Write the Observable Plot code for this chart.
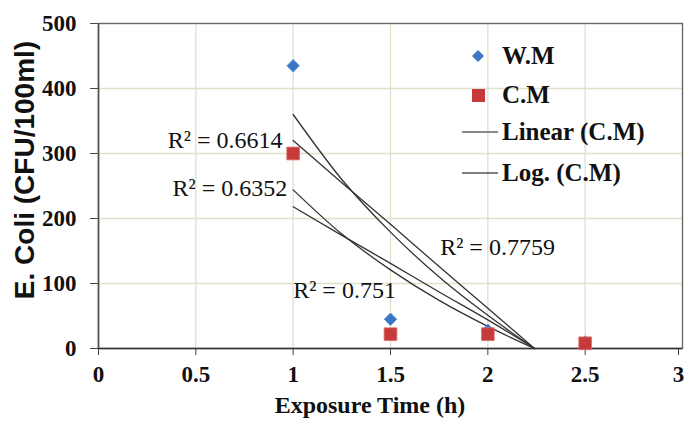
<!DOCTYPE html>
<html><head><meta charset="utf-8">
<script src="https://cdn.jsdelivr.net/npm/d3@7"></script>
<script src="https://cdn.jsdelivr.net/npm/@observablehq/plot@0.6"></script>
<style>
body{margin:0;background:#fff}
#wrap{position:relative;width:685px;height:421px}
#legend{position:absolute;left:0;top:0;font-family:"Liberation Serif",serif;font-weight:bold;font-size:25px;color:#111}
.item{position:absolute;height:30px;line-height:30px;white-space:nowrap}
</style>
</head><body><div id="wrap"><div id="chart"></div><div id="legend"></div></div>
<script>
// data
const time = [1, 1.5, 2, 2.5];
const wm = [435, 45, 28, 10];
const cm = [300, 22, 22, 8];
const xTicks = [0, 0.5, 1, 1.5, 2, 2.5, 3];
const yTicks = [0, 100, 200, 300, 400, 500];
// trendlines
const trendX = [1, 1.25, 1.5, 1.75, 2, 2.24];
const logWM = [360, 260, 179, 110, 51, 0];
const linWM = [320, 255, 191, 126, 62, 0];
const logCM = [244, 176, 121, 74, 34, 0];
const linCM = [218, 174, 131, 87, 44, 0];
// R² annotations
const r2Text = ["R² = 0.6614", "R² = 0.6352", "R² = 0.7759", "R² = 0.751"];
const r2X = [0.945, 0.97, 1.755, 1.0];
const r2Y = [320, 247, 155, 89];
const r2Anchor = ["end", "end", "start", "start"];

const pts = (xs, ys) => xs.map((x, i) => ({x, y: ys[i]}));
const labels = r2Text.map((t, i) => ({t, x: r2X[i], y: r2Y[i], a: r2Anchor[i]}));

const serif = "Liberation Serif, Times New Roman, serif";
const lineStyle = {x: "x", y: "y", stroke: "#333", strokeWidth: 1.3, curve: "monotone-x"};
const axStyle = {fontSize: 23, fontWeight: "bold", fill: "#111", stroke: "#444", tickFormat: d => String(d), label: null};

const chart = Plot.plot({
  width: 685, height: 421,
  marginLeft: 98, marginRight: 3, marginTop: 23, marginBottom: 73,
  x: {domain: [0, 3]},
  y: {domain: [0, 500]},
  style: {fontFamily: serif, background: "#fff"},
  marks: [
    Plot.gridX(xTicks, {stroke: "#e2e0cc", strokeOpacity: 1, strokeWidth: 1.3}),
    Plot.gridY(yTicks, {stroke: "#e2e0cc", strokeOpacity: 1, strokeWidth: 1.3}),
    Plot.frame({stroke: "#666", strokeWidth: 1.3}),
    Plot.axisX(xTicks.slice(0, -1), {tickSize: 7, tickPadding: 10, ...axStyle}),
    Plot.axisX(xTicks.slice(-1), {tickSize: 7, tickPadding: 10, dx: -4, ...axStyle}),
    Plot.axisY(yTicks, {tickSize: 8, tickPadding: 14, ...axStyle}),
    Plot.ruleY([0], {stroke: "#333", strokeWidth: 1.6}),
    Plot.ruleX([0], {stroke: "#555", strokeWidth: 1.6}),
    Plot.line(pts(trendX, logWM), lineStyle),
    Plot.line(pts(trendX, linWM), lineStyle),
    Plot.line(pts(trendX, logCM), lineStyle),
    Plot.line(pts(trendX, linCM), lineStyle),
    Plot.dot(pts(time, wm), {x: "x", y: "y", symbol: "diamond2", r: 5.6, fill: "#3b76c4", stroke: "#5a8fd6", strokeWidth: 1, strokeLinejoin: "round"}),
    Plot.dot(pts(time, cm), {x: "x", y: "y", symbol: "square", r: 7.2, fill: "#c53a3a", stroke: "#e07070", strokeWidth: 0.8}),
    Plot.text(labels.filter(d => d.a === "end"), {x: "x", y: "y", text: "t", textAnchor: "end", fontSize: 24, fill: "#111", fontFamily: serif}),
    Plot.text(labels.filter(d => d.a === "start"), {x: "x", y: "y", text: "t", textAnchor: "start", fontSize: 24, fill: "#111", fontFamily: serif})
  ]
});

const svg = d3.select(chart);
svg.append("text")
  .attr("transform", "translate(34,170) rotate(-90)")
  .attr("text-anchor", "middle")
  .attr("font-family", "Liberation Sans, Arial, sans-serif")
  .attr("font-weight", "bold").attr("font-size", 28).attr("fill", "#111")
  .text("E. Coli (CFU/100ml)");
svg.append("text")
  .attr("x", 370).attr("y", 413)
  .attr("text-anchor", "middle")
  .attr("font-family", serif)
  .attr("font-weight", "bold").attr("font-size", 24).attr("fill", "#111")
  .text("Exposure Time (h)");

document.getElementById("chart").append(chart);

// legend (in-plot, as in the reference)
const legendNames = ["W.M", "C.M", "Linear (C.M)", "Log. (C.M)"];
const legendY = [56, 95, 132, 173];
const legendSym = [
  '<svg width="40" height="30"><path d="M16,9 L22,15 L16,21 L10,15Z" fill="#3b76c4"/></svg>',
  '<svg width="40" height="30"><rect x="10" y="9" width="13" height="13" fill="#c53a3a"/></svg>',
  '<svg width="40" height="30"><line x1="0" y1="15" x2="36" y2="15" stroke="#888" stroke-width="2.2"/></svg>',
  '<svg width="40" height="30"><line x1="0" y1="15" x2="36" y2="15" stroke="#555" stroke-width="1.3"/></svg>'
];
const lg = document.getElementById("legend");
legendNames.forEach((n, i) => {
  const d = document.createElement("div");
  d.className = "item";
  d.style.left = "462px";
  d.style.top = (legendY[i] - 15) + "px";
  d.innerHTML = '<span style="display:inline-block;vertical-align:top;width:40px;height:30px">' + legendSym[i] + '</span>' + n;
  lg.append(d);
});
</script>
</body></html>
